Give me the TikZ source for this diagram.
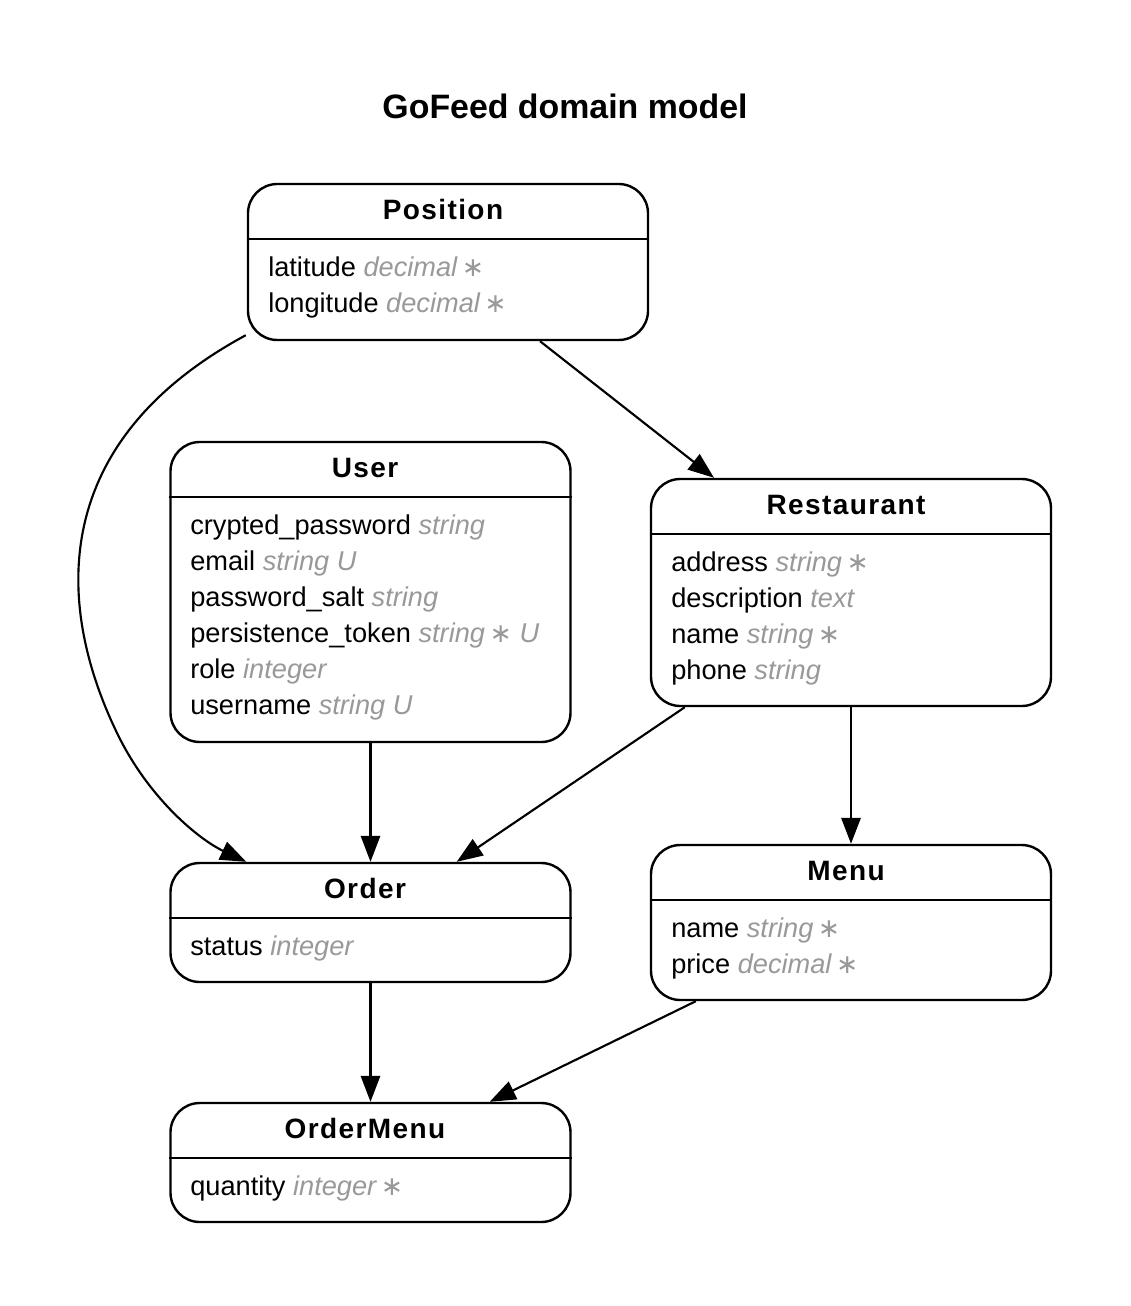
\documentclass[tikz,border=0pt]{standalone}
\usepackage{fontspec}
\setmainfont{Liberation Sans}
\newfontfamily\symfont{DejaVu Sans}
\usetikzlibrary{arrows.meta,calc}
\definecolor{typegray}{HTML}{999999}
\newcommand{\ty}[1]{{\color{typegray}\itshape #1}}
\newcommand{\req}{{\color{typegray}\symfont\itshape\fontsize{20pt}{20pt}\selectfont ∗}}
\newcommand{\etfont}{\fontsize{21pt}{24pt}\bfseries\addfontfeature{LetterSpace=5}}
\newcommand{\atfont}{\fontsize{20.4pt}{24pt}\selectfont}
\begin{document}
\begin{tikzpicture}[x=0.75pt,y=-0.75pt,
  ebox/.style={draw, line width=1.8pt, rounded corners=22pt, minimum width=300pt, inner sep=0pt},
  etitle/.style={anchor=base, inner sep=0pt, font=\etfont},
  attr/.style={anchor=base west, inner sep=0pt, font=\atfont},
  sepline/.style={line width=1.6pt},
  conn/.style={line width=1.6pt, -{Triangle[length=19.5pt,width=14.5pt]}}
]
\useasboundingbox (0,0) rectangle (1131,1306);
\fill[white] (0,0) rectangle (1131,1306);

\node[anchor=base, inner sep=0pt, font=\fontsize{25.4pt}{30pt}\bfseries\selectfont] (title) at (565,118) {GoFeed domain model};

% Position
\node[ebox, minimum height=117pt] (position) at (448,262) {};
\draw[sepline] (position.west |- 0,239) -- (position.east |- 0,239);
\node[etitle] (positiont) at (443,219) {Position};
\node[attr] (pos1) at (268,276) {latitude \ty{decimal}\,\req};
\node[attr] (pos2) at (268,312) {longitude \ty{decimal}\,\req};

% User
\node[ebox, minimum height=225pt] (user) at (370.5,592) {};
\draw[sepline] (user.west |- 0,497) -- (user.east |- 0,497);
\node[etitle] (usert) at (365,477) {User};
\node[attr] (u1) at (190,534) {crypted\_password \ty{string}};
\node[attr] (u2) at (190,570) {email \ty{string U}};
\node[attr] (u3) at (190,606) {password\_salt \ty{string}};
\node[attr] (u4) at (190,642) {persistence\_token \ty{string}\,\req\ \ty{U}};
\node[attr] (u5) at (190,678) {role \ty{integer}};
\node[attr] (u6) at (190,714) {username \ty{string U}};

% Restaurant
\node[ebox, minimum height=170.25pt] (restaurant) at (851,592.5) {};
\draw[sepline] (restaurant.west |- 0,534) -- (restaurant.east |- 0,534);
\node[etitle] (restaurantt) at (846,514) {Restaurant};
\node[attr] (r1) at (671,571) {address \ty{string}\,\req};
\node[attr] (r2) at (671,607) {description \ty{text}};
\node[attr] (r3) at (671,643) {name \ty{string}\,\req};
\node[attr] (r4) at (671,679) {phone \ty{string}};

% Order
\node[ebox, minimum height=89.25pt] (order) at (370.5,922.5) {};
\draw[sepline] (order.west |- 0,918) -- (order.east |- 0,918);
\node[etitle] (ordert) at (365,898) {Order};
\node[attr] (o1) at (190,955) {status \ty{integer}};

% Menu
\node[ebox, minimum height=116.25pt] (menu) at (851,922.5) {};
\draw[sepline] (menu.west |- 0,900) -- (menu.east |- 0,900);
\node[etitle] (menut) at (846,880) {Menu};
\node[attr] (m1) at (671,937) {name \ty{string}\,\req};
\node[attr] (m2) at (671,973) {price \ty{decimal}\,\req};

% OrderMenu
\node[ebox, minimum height=89.25pt] (ordermenu) at (370.5,1162.5) {};
\draw[sepline] (ordermenu.west |- 0,1158) -- (ordermenu.east |- 0,1158);
\node[etitle] (ordermenut) at (365,1138) {OrderMenu};
\node[attr] (om1) at (190,1195) {quantity \ty{integer}\,\req};

% connectors
\draw[conn] ($(position.south west)+(-1,-6)$) .. controls (52,440) and (52,600) .. (118,735)
  .. controls (150,800) and (200,840) .. ($(order.north west)+(77,0)$);
\draw[conn] ($(position.south)+(92,0)$) -- ($(restaurant.north)+(-137,0)$);
\draw[conn] (user.south) -- (order.north);
\draw[conn] ($(restaurant.south west)+(35,0)$) -- ($(order.north east)+(-115,0)$);
\draw[conn] (restaurant.south) -- (menu.north);
\draw[conn] (order.south) -- (ordermenu.north);
\draw[conn] ($(menu.south west)+(46,0)$) -- ($(ordermenu.north east)+(-82,0)$);
\end{tikzpicture}
\end{document}
